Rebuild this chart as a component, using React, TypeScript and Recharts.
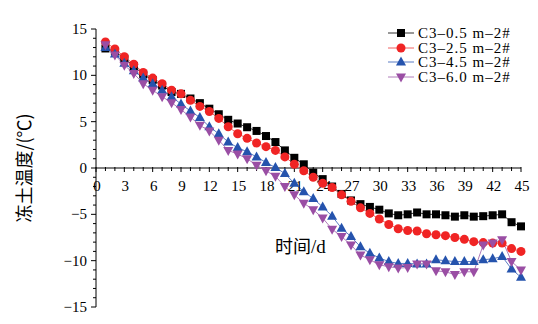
import { LineChart, Line, XAxis, YAxis, ReferenceLine, ReferenceDot } from "recharts";

const days = [
  1, 2, 3, 4, 5, 6, 7, 8, 9, 10, 11, 12, 13, 14, 15, 16, 17, 18, 19, 20, 21, 22, 23,
  24, 25, 26, 27, 28, 29, 30, 31, 32, 33, 34, 35, 36, 37, 38, 39, 40, 41, 42, 43, 44, 45,
];

// C3-0.5 m
const c05 = [
  12.9, 12.6, 11.8, 11.0, 10.1, 9.5, 8.9, 8.2, 8.0, 7.5, 7.0, 6.4, 5.8, 5.2, 4.8, 4.4, 4.0,
  3.45, 2.8, 1.9, 1.1, 0.4, -0.5, -1.2, -2.0, -2.8, -3.5, -3.9, -4.2, -4.5, -4.9, -5.1, -5.0,
  -4.8, -5.0, -5.0, -5.1, -5.25, -5.1, -5.25, -5.2, -5.1, -5.0, -5.85, -6.3,
];
// C3-2.5 m
const c25 = [
  13.6, 12.85, 12.0, 11.2, 10.3, 9.7, 9.1, 8.4, 8.0, 7.3, 6.65, 6.1, 5.35, 4.45, 3.7, 3.2,
  2.7, 2.3, 1.9, 1.2, 0.4, -0.3, -1.0, -1.65, -2.1, -2.9, -3.6, -4.3, -4.9, -5.5, -6.1, -6.55,
  -6.75, -6.8, -7.1, -7.2, -7.3, -7.5, -7.7, -7.95, -8.05, -8.1, -8.1, -8.7, -9.0,
];
// C3-4.5 m
const c45 = [
  13.0, 12.3, 11.3, 10.5, 9.7, 9.1, 8.4, 7.7, 6.9, 6.15, 5.45, 4.45, 3.7, 2.8, 2.2, 1.75,
  1.2, 0.6, 0.05, -0.6, -1.65, -2.55, -3.3, -4.2, -5.2, -6.5, -7.4, -8.5, -9.2, -9.7, -10.1,
  -10.3, -10.3, -10.35, -10.35, -9.9, -10.0, -10.1, -10.1, -10.1, -9.9, -9.8, -9.55, -10.9, -11.8,
];
// C3-6.0 m
const c60 = [
  13.3, 12.2, 11.1, 10.2, 9.1, 8.4, 7.7, 7.05, 6.3, 5.5, 4.6, 4.0, 3.0, 1.9, 1.5, 1.0, 0.3,
  -0.3, -0.9, -2.0, -2.9, -3.8, -4.5, -5.4, -6.6, -7.4, -8.3, -9.4, -9.9, -10.45, -10.65,
  -10.8, -10.75, -10.35, -10.35, -11.1, -11.2, -11.5, -11.2, -11.2, -8.3, -8.1, -7.75, -10.1, -11.0,
];

const seriesNames = ["C3–0.5 m–2#", "C3–2.5 m–2#", "C3–4.5 m–2#", "C3–6.0 m–2#"];
const seriesKeys = ["s05", "s25", "s45", "s60"];
const colors = ["#000000", "#f02424", "#2553ad", "#9a4ea4"];
const lineColors = ["#333333", "#f06060", "#5a7cc4", "#b07cba"];

const xTicks = [0, 3, 6, 9, 12, 15, 18, 21, 24, 27, 30, 33, 36, 39, 42, 45];
const xMinorTicks = Array.from({ length: 46 }, (_, i) => i);
const yTicks = [-15, -10, -5, 0, 5, 10, 15];
const yMinorTicks = Array.from({ length: 31 }, (_, i) => i - 15);

const data = days.map((d, i) => ({ day: d, s05: c05[i], s25: c25[i], s45: c45[i], s60: c60[i] }));

const serif = "Liberation Serif";
const cjk = "Noto Sans CJK SC";

const fmt = (v: number) => (v < 0 ? `−${Math.abs(v)}` : `${v}`);

const Marker = ({ kind, cx, cy, color }: { kind: number; cx: number; cy: number; color: string }) => {
  if (kind === 0) return <rect x={cx - 4} y={cy - 4} width={8} height={8} fill={color} />;
  if (kind === 1) return <circle cx={cx} cy={cy} r={4.5} fill={color} />;
  if (kind === 2)
    return <polygon points={`${cx},${cy - 5.5} ${cx - 5},${cy + 3.5} ${cx + 5},${cy + 3.5}`} fill={color} />;
  return <polygon points={`${cx - 5},${cy - 3.5} ${cx + 5},${cy - 3.5} ${cx},${cy + 5.5}`} fill={color} />;
};

const YTick = (props: any) => {
  const { x, y, payload } = props;
  const v = payload.value;
  const major = yTicks.includes(v);
  return (
    <g>
      <line x1={x - (major ? 5 : 3)} x2={x} y1={y} y2={y} stroke="#000" />
      {major && (
        <text x={x - 9} y={y} dy={5} textAnchor="end" fontSize={15} fontFamily={serif} fill="#000">
          {fmt(v)}
        </text>
      )}
    </g>
  );
};

const XTickMark = (props: any) => {
  const { cx, cy, value } = props;
  const major = xTicks.includes(value);
  return (
    <g>
      <line x1={cx} x2={cx} y1={cy - 1} y2={cy + (major ? 4 : 3)} stroke="#000" />
      {major && (
        <text x={cx + 1} y={cy + 23} textAnchor="middle" fontSize={15} fontFamily={serif} fill="#000">
          {value}
        </text>
      )}
    </g>
  );
};

const YTitle = (props: any) => {
  const { viewBox } = props;
  const cx = viewBox.x + 25;
  const cy = viewBox.y + viewBox.height / 2;
  return (
    <text x={cx} y={cy} transform={`rotate(-90, ${cx}, ${cy})`} textAnchor="middle" dy={6} fontSize={18} fontFamily={cjk} fill="#000">
      冻土温度/(℃)
    </text>
  );
};

export default function App() {
  return (
    <div style={{ position: "absolute", left: 0, top: 0, width: 538, height: 324, background: "#fff" }}>
      <LineChart width={538} height={324} data={data} margin={{ top: 29, right: 17, bottom: 17, left: 0 }}>
        <XAxis dataKey="day" type="number" domain={[0, 45]} hide />
        <YAxis
          type="number"
          domain={[-15, 15]}
          ticks={yMinorTicks}
          interval={0}
          width={96}
          tickSize={0}
          tickMargin={0}
          tickLine={false}
          tick={<YTick />}
          axisLine={{ stroke: "#000", strokeWidth: 1 }}
          label={<YTitle />}
        />
        <ReferenceLine y={0} stroke="#000" strokeWidth={1} ifOverflow="visible" />
        {xMinorTicks.map((d) => (
          <ReferenceDot
            key={d}
            x={d}
            y={0}
            r={1}
            ifOverflow="visible"
            shape={(p: any) => <XTickMark {...p} value={d} />}
          />
        ))}
        {seriesKeys.map((k, i) => (
          <Line
            key={k}
            dataKey={k}
            name={seriesNames[i]}
            type="linear"
            stroke={lineColors[i]}
            strokeWidth={1}
            isAnimationActive={false}
            dot={(p: any) => <Marker key={`${k}-${p.index}`} kind={i} cx={p.cx} cy={p.cy} color={colors[i]} />}
            activeDot={false}
          />
        ))}
      </LineChart>
      <div
        style={{
          position: "absolute",
          left: 386,
          top: 26,
          fontFamily: serif,
          fontSize: 15,
          lineHeight: "14.6px",
          color: "#000",
        }}
      >
        {seriesNames.map((name, i) => (
          <div key={name} style={{ display: "flex", alignItems: "center", height: 14.6, whiteSpace: "nowrap" }}>
            <svg width={30} height={14} style={{ marginRight: 2 }}>
              <line x1={2} x2={28} y1={7} y2={7} stroke={lineColors[i]} strokeWidth={1} />
              <Marker kind={i} cx={15} cy={7} color={colors[i]} />
            </svg>
            <span style={{ letterSpacing: 1 }}>{name}</span>
          </div>
        ))}
      </div>
      <div
        style={{
          position: "absolute",
          left: 275,
          top: 234,
          fontSize: 18,
          fontFamily: cjk,
          lineHeight: "22px",
          whiteSpace: "nowrap",
        }}
      >
        时间<span style={{ fontFamily: serif, fontSize: 19 }}>/d</span>
      </div>
    </div>
  );
}
